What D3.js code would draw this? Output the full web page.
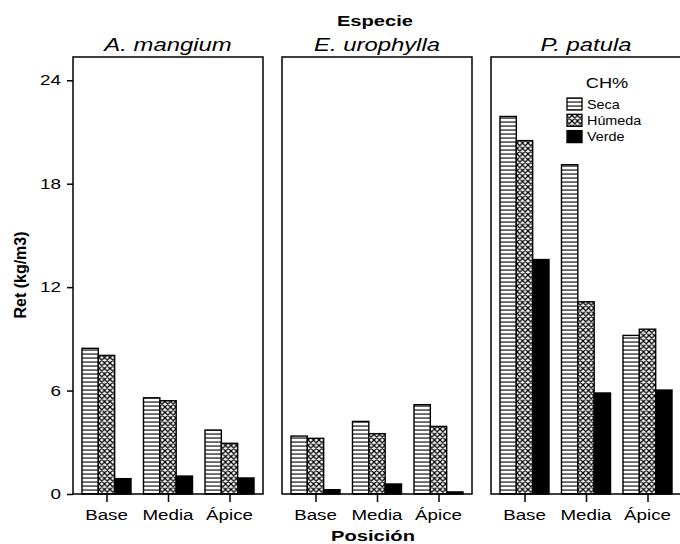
<!DOCTYPE html>
<html>
<head>
<meta charset="utf-8">
<script src="https://cdn.jsdelivr.net/npm/d3@7"></script>
<style>
  html, body { margin: 0; padding: 0; background: #fff; }
  svg text { font-family: "Liberation Sans", Arial, Helvetica, sans-serif; fill: #000; }
</style>
</head>
<body>
<svg id="chart" width="680" height="544"></svg>
<script>
// ---------------- DATA ----------------
const species = ["A. mangium", "E. urophylla", "P. patula"];
const positions = ["Base", "Media", "Ápice"];
const seriesNames = ["Seca", "Húmeda", "Verde"];
// values per species (rows) and position (columns)
const seca   = [[8.45, 5.58, 3.71], [3.36, 4.21, 5.18], [21.9, 19.1, 9.2]];
const humeda = [[8.04, 5.41, 2.94], [3.23, 3.50, 3.92], [20.5, 11.15, 9.56]];
const verde  = [[0.89, 1.04, 0.93], [0.25, 0.58, 0.12], [13.6, 5.86, 6.03]];
const yTicks = [0, 6, 12, 18, 24];
const yTitle = "Ret (kg/m3)";
const xTitle = "Posición";
const facetTitle = "Especie";
const legendTitle = "CH%";

// ---------------- LAYOUT ----------------
const svg = d3.select("#chart");
const panelW = 190, panelGap = 19, firstX = 73;
const topY = 57, bottomY = 494;
const yMax = 25.35;

const y = d3.scaleLinear().domain([0, yMax]).range([bottomY, topY]);
const panelX = d3.scaleBand().domain(species)
  .range([firstX, firstX + 3 * panelW + 2 * panelGap])
  .paddingInner(panelGap / (panelW + panelGap)).paddingOuter(0);

const seriesData = [seca, humeda, verde];

// ---------------- PATTERNS ----------------
const defs = svg.append("defs");
const pStripe = defs.append("pattern").attr("id", "pat-seca")
  .attr("patternUnits", "userSpaceOnUse").attr("width", 8).attr("height", 4);
pStripe.append("rect").attr("width", 8).attr("height", 4).attr("fill", "#fff");
pStripe.append("rect").attr("y", 1.5).attr("width", 8).attr("height", 1.1).attr("fill", "#000");

const pCross = defs.append("pattern").attr("id", "pat-humeda")
  .attr("patternUnits", "userSpaceOnUse").attr("width", 5.5).attr("height", 5.5);
pCross.append("rect").attr("width", 5.5).attr("height", 5.5).attr("fill", "#fff");
pCross.append("path").attr("d", "M0,0L5.5,5.5M5.5,0L0,5.5M-1,4.5L1,6.5M4.5,-1L6.5,1M-1,1L1,-1M4.5,6.5L6.5,4.5")
  .attr("stroke", "#000").attr("stroke-width", 1.3);

const fills = ["url(#pat-seca)", "url(#pat-humeda)", "#000"];

// helper for horizontally stretched text
function addText(g, str, x, yy, opts) {
  return g.append("text")
    .attr("transform", `translate(${x},${yy}) scale(${opts.sx || 1},1)` + (opts.rotate ? ` rotate(${opts.rotate})` : ""))
    .attr("text-anchor", opts.anchor || "middle")
    .attr("font-size", opts.size)
    .attr("font-weight", opts.weight || "normal")
    .attr("font-style", opts.style || "normal")
    .text(str);
}

// ---------------- PANELS ----------------
species.forEach((sp, si) => {
  const px = panelX(sp);
  const g = svg.append("g");
  const x0 = d3.scaleBand().domain(positions).range([px, px + panelW])
    .paddingInner(0.203).paddingOuter(0.146);
  const x1 = d3.scaleBand().domain(seriesNames).range([0, x0.bandwidth()]);

  // bars
  positions.forEach((pos, pi) => {
    seriesNames.forEach((sn, k) => {
      const v = seriesData[k][si][pi];
      g.append("rect")
        .attr("x", x0(pos) + x1(sn))
        .attr("y", y(v))
        .attr("width", x1.bandwidth())
        .attr("height", y(0) - y(v))
        .attr("fill", fills[k])
        .attr("stroke", "#000")
        .attr("stroke-width", 1.4);
    });
  });

  // frame
  g.append("rect").attr("x", px).attr("y", topY).attr("width", panelW).attr("height", bottomY - topY)
    .attr("fill", "none").attr("stroke", "#000").attr("stroke-width", 1.5);

  // x axis
  const xAxis = d3.axisBottom(d3.scalePoint().domain(positions)
      .range([x0(positions[0]) + x0.bandwidth() / 2, x0(positions[2]) + x0.bandwidth() / 2]))
    .tickSize(8).tickSizeOuter(0).tickFormat(() => "");
  const ax = g.append("g").attr("transform", `translate(0,${bottomY})`).call(xAxis);
  ax.select(".domain").remove();
  ax.selectAll(".tick line").attr("stroke", "#000").attr("stroke-width", 1.5);
  positions.forEach(pos => {
    addText(g, pos, x0(pos) + x0.bandwidth() / 2, 520, { size: 15, sx: 1.25 });
  });

  // facet title
  addText(g, sp, px + panelW / 2, 51, { size: 18.5, sx: 1.29, style: "italic" });
});

// ---------------- Y AXIS ----------------
const yAxis = d3.axisLeft(y).tickValues(yTicks).tickSize(6).tickFormat("");
const yg = svg.append("g").attr("transform", `translate(${firstX},0)`).call(yAxis);
yg.select(".domain").remove();
yg.selectAll(".tick line").attr("stroke", "#000").attr("stroke-width", 1.5);
yTicks.forEach(t => {
  addText(svg, String(t), 61, y(t) + 5, { size: 14, sx: 1.35, anchor: "end" });
});

// axis titles
addText(svg, yTitle, 26, 275, { size: 16, weight: "bold", rotate: -90 });
const mid = (firstX + panelX(species[2]) + panelW) / 2;
addText(svg, facetTitle, mid - 2, 26, { size: 15.5, sx: 1.3, weight: "bold" });
addText(svg, xTitle, mid - 4, 541, { size: 15.5, sx: 1.3, weight: "bold" });

// ---------------- LEGEND ----------------
const lg = svg.append("g");
addText(lg, legendTitle, 607, 88, { size: 14, sx: 1.3 });
seriesNames.forEach((sn, k) => {
  const ly = 98 + k * 16.3;
  lg.append("rect").attr("x", 567).attr("y", ly).attr("width", 15).attr("height", 12)
    .attr("fill", fills[k]).attr("stroke", "#000").attr("stroke-width", 1.3);
  addText(lg, sn, 587, ly + 10.5, { size: 12.5, sx: 1.15, anchor: "start" });
});
</script>
</body>
</html>
